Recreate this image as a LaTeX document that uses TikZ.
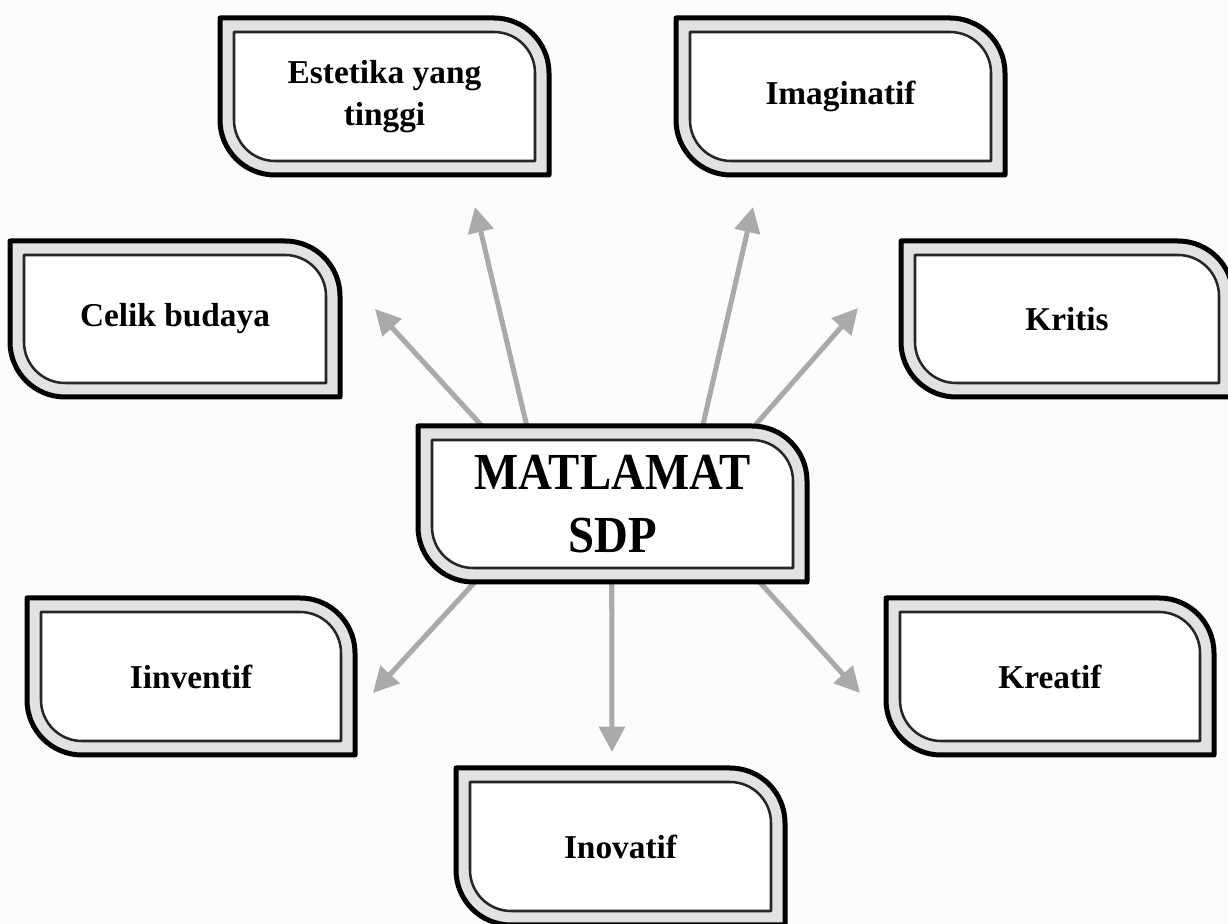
\documentclass[tikz,border=0pt]{standalone}
\usepackage{fontspec}
\setmainfont{Liberation Serif}
\newfontfamily\titlefont[FakeStretch=0.9]{Liberation Serif}
\usetikzlibrary{arrows.meta,calc}
\pgfdeclarelayer{background}
\pgfdeclarelayer{paper}
\pgfsetlayers{paper,background,main}

\definecolor{bandgray}{HTML}{E2E2E2}
\definecolor{arrowgray}{HTML}{AAAAAA}

\tikzset{
  outerline/.style={draw=black, line width=3.75pt, fill=bandgray, line join=round},
  innerline/.style={draw=black!85, line width=1.9pt, fill=white, line join=round},
  goaltext/.style={font=\bfseries\fontsize{25}{32}\selectfont, align=center, inner sep=0pt},
  titletext/.style={font=\titlefont\bfseries\fontsize{39}{47}\selectfont, align=center, inner sep=0pt},
  goalarrow/.style={draw=arrowgray, line width=3.8pt,
    -{Triangle[length=19pt,width=19pt]}},
}

% #1 name, #2 left, #3 top, #4 right, #5 bottom (y up), #6 text style, #7 text
\newcommand\goalbox[7]{%
  \draw[outerline] (#2,#3) -- ({#4-55},#3) arc[start angle=90,end angle=0,radius=55]
    -- (#4,#5) -- ({#2+55},#5) arc[start angle=270,end angle=180,radius=55] -- cycle;
  \draw[innerline] ({#2+14},{#3-14}) -- ({#4-55},{#3-14}) arc[start angle=90,end angle=0,radius=41]
    -- ({#4-14},{#5+14}) -- ({#2+55},{#5+14}) arc[start angle=270,end angle=180,radius=41] -- cycle;
  \node[#6, minimum width={(#4-#2)*0.75pt}, minimum height={(#3-#5)*0.75pt}]
    (#1) at ({(#2+#4)/2},{(#3+#5)/2}) {#7};
}

\begin{document}
\begin{tikzpicture}[x=0.75pt,y=0.75pt]
  \begin{pgfonlayer}{paper}
    \fill[white!99!black] (0,0) rectangle (1228,924);
  \end{pgfonlayer}
  \useasboundingbox (0,0) rectangle (1228,924);
  \clip (0,0) rectangle (1228,924);

  % central goal
  \goalbox{m}{418}{498}{807}{342}{titletext}{MATLAMAT\\SDP}

  % surrounding aims
  \goalbox{estetika}{220}{906}{549}{749}{goaltext}{Estetika yang\\tinggi}
  \goalbox{imaginatif}{676}{906}{1005}{749}{goaltext}{Imaginatif}
  \goalbox{celik}{10}{683}{340}{527}{goaltext}{Celik budaya}
  \goalbox{kritis}{901}{683}{1233}{527}{goaltext}{Kritis}
  \goalbox{inventif}{27}{326}{355}{169}{goaltext}{Iinventif}
  \goalbox{kreatif}{886}{326}{1214}{169}{goaltext}{Kreatif}
  \goalbox{inovatif}{456}{156}{785}{-1}{goaltext}{Inovatif}

  % arrow tips, short of each aim box
  \coordinate (tip-celik) at (375,615);
  \coordinate (tip-estetika) at (475,717);
  \coordinate (tip-imaginatif) at (753,717);
  \coordinate (tip-kritis) at (858,616);
  \coordinate (tip-inventif) at (373,231);
  \coordinate (tip-inovatif) at (612,172);
  \coordinate (tip-kreatif) at (860,231);

  \begin{pgfonlayer}{background}
    \draw[goalarrow] ($(m.north west)+(64,0)$) -- (tip-celik);
    \draw[goalarrow] ($(m.north west)+(109,0)$) -- (tip-estetika);
    \draw[goalarrow] ($(m.north west)+(285,0)$) -- (tip-imaginatif);
    \draw[goalarrow] ($(m.north west)+(337,0)$) -- (tip-kritis);
    \draw[goalarrow] ($(m.south west)+(57,0)$) -- (tip-inventif);
    \draw[goalarrow] ($(m.south west)+(194,0)$) -- (tip-inovatif);
    \draw[goalarrow] ($(m.south west)+(342,0)$) -- (tip-kreatif);
  \end{pgfonlayer}
\end{tikzpicture}
\end{document}
